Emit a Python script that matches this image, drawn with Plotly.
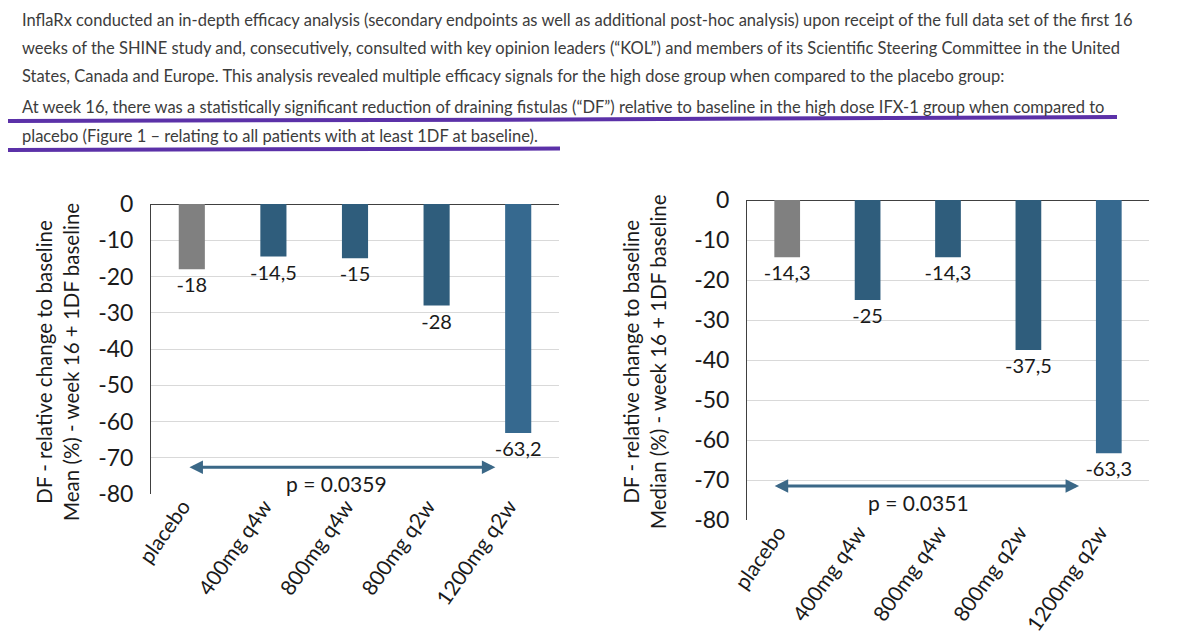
import plotly.graph_objects as go

# ---------------- data ----------------
categories = ["placebo", "400mg q4w", "800mg q4w", "800mg q2w", "1200mg q2w"]
mean_change = [-18, -14.5, -15, -28, -63.2]
median_change = [-14.3, -25, -14.3, -37.5, -63.3]
p_values = ["0.0359", "0.0351"]
y_ticks = [0, -10, -20, -30, -40, -50, -60, -70, -80]
bar_colors = ["#808080", "#2f5d7c", "#2f5d7c", "#2f5d7c", "#36698f"]

y_titles = [
    "DF - relative change to baseline<br>Mean (%) - week 16 + 1DF baseline",
    "DF - relative change to baseline<br>Median (%) - week 16 + 1DF baseline",
]

paragraph = [
    "InflaRx conducted an in-depth efficacy analysis (secondary endpoints as well as additional post-hoc analysis) upon receipt of the full data set of the first 16",
    "weeks of the SHINE study and, consecutively, consulted with key opinion leaders (\u201cKOL\u201d) and members of its Scientific Steering Committee in the United",
    "States, Canada and Europe. This analysis revealed multiple efficacy signals for the high dose group when compared to the placebo group:",
    "At week 16, there was a statistically significant reduction of draining fistulas (\u201cDF\u201d) relative to baseline in the high dose IFX-1 group when compared to",
    "placebo (Figure 1 \u2013 relating to all patients with at least 1DF at baseline).",
]

W, H = 1194, 641
FONT = "Lato"
TXT = "#1a1a1a"


def fmt(v):
    return f"{v:g}".replace(".", ",")


def px_x(p):
    return p / W


def px_y(p):
    return 1 - p / H


fig = go.Figure()
for vals, xa, ya in [(mean_change, "x", "y"), (median_change, "x2", "y2")]:
    fig.add_trace(go.Bar(
        x=categories, y=vals, xaxis=xa, yaxis=ya,
        marker=dict(color=bar_colors, line=dict(width=0)),
        width=0.32,
        text=[fmt(v) for v in vals],
        textposition="outside",
        constraintext="none",
        cliponaxis=False,
        textfont=dict(family=FONT, size=20, color=TXT),
        showlegend=False,
        hoverinfo="skip",
    ))

common_x = dict(
    type="category", showgrid=False, showline=False, zeroline=False, ticks="",
    tickangle=-55, tickfont=dict(family=FONT, size=21, color=TXT),
    ticklabelshift=-9, ticklabelstandoff=-5,
    automargin=False,
)
common_y = dict(
    range=[-80, 0], tickmode="array", tickvals=y_ticks,
    ticktext=[str(v) for v in y_ticks],
    showgrid=True, gridcolor="#d9d9d9", gridwidth=1,
    zeroline=True, zerolinecolor="#404040", zerolinewidth=1,
    showline=True, linecolor="#404040", linewidth=1, ticks="",
    tickfont=dict(family=FONT, size=23, color=TXT), ticklabelstandoff=12,
    automargin=False,
)

fig.update_layout(
    width=W, height=H,
    margin=dict(l=0, r=0, t=0, b=0, autoexpand=False),
    paper_bgcolor="white", plot_bgcolor="white",
    xaxis=dict(domain=[px_x(151), px_x(559)], anchor="y", **common_x),
    yaxis=dict(domain=[px_y(494), px_y(204)], anchor="x", **common_y),
    xaxis2=dict(domain=[px_x(747), px_x(1149)], anchor="y2", **common_x),
    yaxis2=dict(domain=[px_y(520), px_y(200)], anchor="x2", **common_y),
    bargap=0.68,
)

# y-axis titles
for title, xc in zip(y_titles, [57, 644]):
    fig.add_annotation(
        text=title, xref="paper", yref="paper", x=px_x(xc), y=px_y(362),
        xanchor="center", yanchor="middle", textangle=-90, showarrow=False,
        font=dict(family=FONT, size=20.5, color=TXT), align="center",
    )

# significance arrows and p-values
arrow_specs = [
    ("x", "y", -0.047, 3.72, -72.6, 1.77, -77.0, p_values[0]),
    ("x2", "y2", -0.174, 3.63, -71.5, 1.63, -75.5, p_values[1]),
]
for xr, yr, x0, x1, ya, px_, py_, pv in arrow_specs:
    fig.add_annotation(
        x=x1, y=ya, ax=x0, ay=ya, xref=xr, yref=yr, axref=xr, ayref=yr,
        text="", showarrow=True, arrowhead=2, startarrowhead=2,
        arrowside="end+start", arrowsize=0.9, startarrowsize=0.9,
        arrowwidth=3, arrowcolor="#3b6887", standoff=0, startstandoff=0,
    )
    fig.add_annotation(
        x=px_, y=py_, xref=xr, yref=yr, text=f"p = {pv}", showarrow=False,
        font=dict(family=FONT, size=21, color=TXT),
    )

# paragraph text
line_y = [20, 48, 76, 107, 136]
for line, yy in zip(paragraph, line_y):
    fig.add_annotation(
        text=line, xref="paper", yref="paper", x=px_x(20), y=px_y(yy),
        xanchor="left", yanchor="middle", showarrow=False,
        font=dict(family=FONT, size=16.5, color="#3c3c3c"),
    )

# hand-drawn purple underlines
purple = "#5b31a8"
fig.add_shape(type="path", xref="paper", yref="paper",
              path=f"M {px_x(8)},{px_y(121)} L {px_x(560)},{px_y(119.5)} L {px_x(1117)},{px_y(117)}",
              line=dict(color=purple, width=4))
fig.add_shape(type="path", xref="paper", yref="paper",
              path=f"M {px_x(8)},{px_y(150)} L {px_x(560)},{px_y(148.5)}",
              line=dict(color=purple, width=4))

fig.write_html(
    "out.html",
    config={"displayModeBar": False},
    post_script="document.body.style.margin='0';document.body.style.overflow='hidden';",
)
